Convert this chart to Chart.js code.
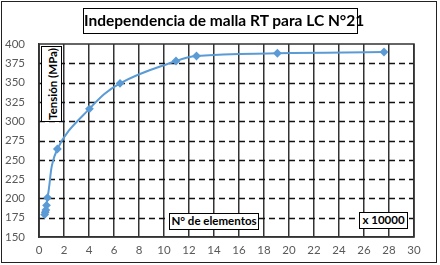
<!DOCTYPE html>
<html>
<head>
<meta charset="utf-8">
<script src="https://cdn.jsdelivr.net/npm/chart.js@4.4.1/dist/chart.umd.min.js"></script>
<style>
  html, body { margin: 0; padding: 0; background: #fff; }
  #wrap { position: relative; width: 440px; height: 265px; }
  #frame { position: absolute; left: 1px; top: 1px; width: 436px; height: 262px; border: 1px solid #222; box-sizing: border-box; }
  canvas { position: absolute; left: 0; top: 0; }
  .box { position: absolute; background: #fff; border: 1.5px solid #000; box-sizing: border-box;
         font-family: Lato, sans-serif; color: #000; white-space: nowrap; text-align: center; }
  #title { left: 83px; top: 8px; width: 275px; height: 26px; font-size: 15.5px; font-weight: 700; line-height: 23px; }
  #ylab { left: 41px; top: 46px; width: 21px; height: 76px; font-size: 11.5px; font-weight: 700; }
  #ylab span { position: absolute; left: 50%; top: 50%; transform: translate(-50%, -50%) rotate(-90deg); }
  #xlab { left: 169px; top: 213px; width: 90px; height: 17px; font-size: 11.5px; font-weight: 700; line-height: 14px; }
  #xmul { left: 359px; top: 212px; width: 49px; height: 17px; font-size: 11.5px; font-weight: 700; line-height: 14px; }
</style>
</head>
<body>
<div id="wrap">
  <div id="frame"></div>
  <canvas id="chart" width="440" height="265"></canvas>
  <div class="box" id="title">Independencia de malla RT para LC N°21</div>
  <div class="box" id="ylab"><span>Tensión (MPa)</span></div>
  <div class="box" id="xlab">N° de elementos</div>
  <div class="box" id="xmul">x 10000</div>
</div>
<script>
// N° de elementos (x 10000) and tension in MPa
const elementos = [0.45, 0.5, 0.55, 0.6, 0.68, 1.47, 4.03, 6.48, 10.96, 12.6, 19.07, 27.6];
const tension = [179, 182, 185, 191, 201, 264, 316, 349, 378, 384.5, 388, 389.6];
const xTicks = [0, 2, 4, 6, 8, 10, 12, 14, 16, 18, 20, 22, 24, 26, 28, 30];
const yTicks = [150, 175, 200, 225, 250, 275, 300, 325, 350, 375, 400];

const points = elementos.map((x, i) => ({ x: x, y: tension[i] }));

const tickFont = { family: 'Lato, sans-serif', size: 11.5 };

new Chart(document.getElementById('chart').getContext('2d'), {
    type: 'scatter',
    data: {
        datasets: [{
            data: points,
            showLine: true,
            tension: 0.4,
            borderColor: '#5B9BD5',
            backgroundColor: '#5B9BD5',
            borderWidth: 2,
            pointStyle: 'rectRot',
            pointRadius: 3
        }]
    },
    options: {
        responsive: false,
        animation: false,
        layout: { padding: { left: 0, top: 44, right: 26, bottom: 0 } },
        plugins: { legend: { display: false }, tooltip: { enabled: false } },
        scales: {
            x: {
                type: 'linear',
                min: 0,
                max: 30,
                afterBuildTicks: s => { s.ticks = xTicks.map(v => ({ value: v })); },
                afterFit: s => { s.height = 28; },
                grid: { color: '#333', lineWidth: 1.5, drawTicks: false },
                border: { color: '#333', width: 1.5 },
                ticks: { color: '#595959', font: tickFont, padding: 6, maxRotation: 0 }
            },
            y: {
                min: 150,
                max: 400,
                afterBuildTicks: s => { s.ticks = yTicks.map(v => ({ value: v })); },
                afterFit: s => { s.width = 39; },
                grid: { display: false },
                border: { color: '#333', width: 1.5 },
                ticks: { color: '#595959', font: tickFont, padding: 6 }
            }
        }
    },
    plugins: [{
        id: 'dashedRows',
        // horizontal dashed lines at every y tick, plus the solid plot frame
        beforeDatasetsDraw(chart) {
            const { ctx, chartArea: a, scales } = chart;
            ctx.save();
            ctx.strokeStyle = '#111';
            ctx.lineWidth = 1.5;
            ctx.setLineDash([6, 4]);
            yTicks.slice(1, -1).forEach(v => {
                const y = Math.round(scales.y.getPixelForValue(v)) + 0.5;
                ctx.beginPath();
                ctx.moveTo(a.left, y);
                ctx.lineTo(a.right, y);
                ctx.stroke();
            });
            ctx.setLineDash([]);
            ctx.strokeStyle = '#333';
            ctx.strokeRect(a.left, a.top, a.right - a.left, a.bottom - a.top);
            ctx.restore();
        }
    }]
});
</script>
</body>
</html>
